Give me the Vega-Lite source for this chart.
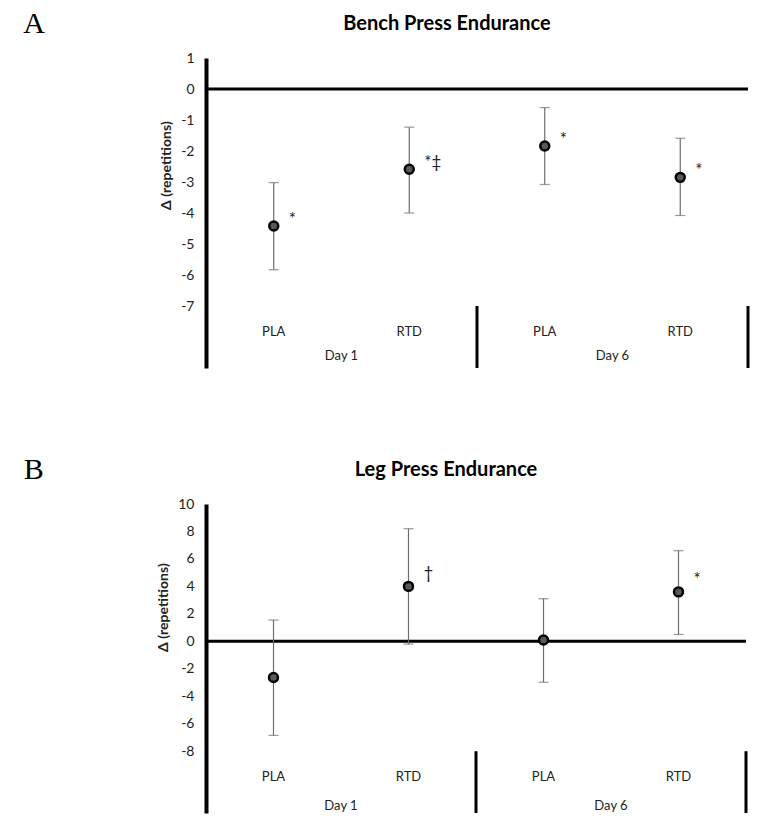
{
  "$schema": "https://vega.github.io/schema/vega-lite/v6.json",
  "background": "white",
  "padding": {"left": 23, "top": 9, "right": 5, "bottom": 5},
  "config": {
    "view": {"stroke": null},
    "font": "Lato",
    "title": {"font": "Lato", "fontSize": 20, "fontWeight": "bold", "color": "black"},
    "axisY": {"labelOverlap": false, "labelBound": false, "labelFlush": false, "tickCount": 30, "domain": true, "domainColor": "black", "domainWidth": 4, "ticks": false, "grid": false, "labelFont": "Lato", "labelFontSize": 14, "labelColor": "#222", "labelPadding": 12, "titleFont": "Lato", "titleFontSize": 14, "titleFontWeight": "bold", "titleColor": "#222", "titlePadding": 7}
  },
  "spacing": 85,
  "vconcat": [
    {
      "title": {"text": "A", "orient": "left", "anchor": "end", "angle": 0, "align": "right", "baseline": "top", "dy": -5, "font": "Liberation Serif", "fontSize": 30, "fontWeight": "normal", "offset": 93},
      "vconcat": [
        {
          "title": {"text": "Bench Press Endurance", "anchor": "middle", "frame": "group", "dx": -30, "offset": 17},
          "width": 542,
          "height": 310,
          "data": {"values": [
            {"day": "Day 1", "group": "PLA", "cond": "Day 1 PLA", "mean": -4.42, "lo": -5.83, "hi": -3.02, "sig": "*"},
            {"day": "Day 1", "group": "RTD", "cond": "Day 1 RTD", "mean": -2.59, "lo": -4.0, "hi": -1.23, "sig": "*‡"},
            {"day": "Day 6", "group": "PLA", "cond": "Day 6 PLA", "mean": -1.84, "lo": -3.08, "hi": -0.6, "sig": "*"},
            {"day": "Day 6", "group": "RTD", "cond": "Day 6 RTD", "mean": -2.85, "lo": -4.08, "hi": -1.59, "sig": "*"}
          ]},
          "layer": [
            {
              "data": {"values": [{"ref": 0}]},
              "mark": {"type": "rule", "color": "black", "strokeWidth": 3},
              "encoding": {
                "y": {"field": "ref", "type": "quantitative", "scale": {"domain": [-9, 1], "nice": false, "zero": false},
                  "axis": {"title": "Δ (repetitions)", "values": [-7, -6, -5, -4, -3, -2, -1, 0, 1], "tickCount": 30, "labelExpr": "datum.value + ''", "labelOverlap": false, "titleY": 107}}
              }
            },
            {
              "mark": {"type": "rule", "color": "#6e6e6e", "strokeWidth": 1.2},
              "encoding": {
                "x": {"field": "cond", "type": "nominal", "scale": {"type": "band", "domain": ["Day 1 PLA", "Day 1 RTD", "Day 6 PLA", "Day 6 RTD"], "paddingInner": 0, "paddingOuter": 0}, "axis": null},
                "y": {"field": "lo", "type": "quantitative", "scale": {"domain": [-9, 1], "nice": false, "zero": false}},
                "y2": {"field": "hi"}
              }
            },
            {
              "mark": {"type": "tick", "orient": "horizontal", "color": "#6e6e6e", "thickness": 1.2, "size": 10},
              "encoding": {
                "x": {"field": "cond", "type": "nominal", "scale": {"type": "band", "domain": ["Day 1 PLA", "Day 1 RTD", "Day 6 PLA", "Day 6 RTD"], "paddingInner": 0, "paddingOuter": 0}, "axis": null},
                "y": {"field": "lo", "type": "quantitative", "scale": {"domain": [-9, 1], "nice": false, "zero": false}}
              }
            },
            {
              "mark": {"type": "tick", "orient": "horizontal", "color": "#6e6e6e", "thickness": 1.2, "size": 10},
              "encoding": {
                "x": {"field": "cond", "type": "nominal", "scale": {"type": "band", "domain": ["Day 1 PLA", "Day 1 RTD", "Day 6 PLA", "Day 6 RTD"], "paddingInner": 0, "paddingOuter": 0}, "axis": null},
                "y": {"field": "hi", "type": "quantitative", "scale": {"domain": [-9, 1], "nice": false, "zero": false}}
              }
            },
            {
              "mark": {"type": "point", "shape": "circle", "filled": true, "fill": "#595959", "stroke": "black", "strokeWidth": 2.5, "size": 80, "opacity": 1},
              "encoding": {
                "x": {"field": "cond", "type": "nominal", "scale": {"type": "band", "domain": ["Day 1 PLA", "Day 1 RTD", "Day 6 PLA", "Day 6 RTD"], "paddingInner": 0, "paddingOuter": 0}, "axis": null},
                "y": {"field": "mean", "type": "quantitative", "scale": {"domain": [-9, 1], "nice": false, "zero": false}}
              }
            },
            {
              "mark": {"type": "text", "align": "left", "baseline": "middle", "dx": 15, "dy": -6, "fontSize": 17, "color": "#222"},
              "encoding": {
                "x": {"field": "cond", "type": "nominal", "scale": {"type": "band", "domain": ["Day 1 PLA", "Day 1 RTD", "Day 6 PLA", "Day 6 RTD"], "paddingInner": 0, "paddingOuter": 0}, "axis": null},
                "y": {"field": "mean", "type": "quantitative", "scale": {"domain": [-9, 1], "nice": false, "zero": false}},
                "text": {"field": "sig"}
              }
            },
            {
              "data": {"values": [{"cond": "Day 1 RTD", "y0": -9, "y1": -7}, {"cond": "Day 6 RTD", "y0": -9, "y1": -7}]},
              "mark": {"type": "rule", "color": "black", "strokeWidth": 3},
              "encoding": {
                "x": {"field": "cond", "type": "nominal", "bandPosition": 1, "scale": {"type": "band", "domain": ["Day 1 PLA", "Day 1 RTD", "Day 6 PLA", "Day 6 RTD"], "paddingInner": 0, "paddingOuter": 0}, "axis": null},
                "y": {"field": "y0", "type": "quantitative", "scale": {"domain": [-9, 1], "nice": false, "zero": false}},
                "y2": {"field": "y1"}
              }
            },
            {
              "mark": {"type": "text", "baseline": "middle", "fontSize": 13, "color": "#222"},
              "encoding": {
                "x": {"field": "cond", "type": "nominal", "scale": {"type": "band", "domain": ["Day 1 PLA", "Day 1 RTD", "Day 6 PLA", "Day 6 RTD"], "paddingInner": 0, "paddingOuter": 0}, "axis": null},
                "y": {"datum": -7.85, "type": "quantitative", "scale": {"domain": [-9, 1], "nice": false, "zero": false}},
                "text": {"field": "group"}
              }
            },
            {
              "data": {"values": [{"cond": "Day 1 PLA", "day": "Day 1"}, {"cond": "Day 6 PLA", "day": "Day 6"}]},
              "mark": {"type": "text", "baseline": "middle", "fontSize": 13, "color": "#222"},
              "encoding": {
                "x": {"field": "cond", "type": "nominal", "bandPosition": 1, "scale": {"type": "band", "domain": ["Day 1 PLA", "Day 1 RTD", "Day 6 PLA", "Day 6 RTD"], "paddingInner": 0, "paddingOuter": 0}, "axis": null},
                "y": {"datum": -8.6, "type": "quantitative", "scale": {"domain": [-9, 1], "nice": false, "zero": false}},
                "text": {"field": "day"}
              }
            }
          ]
        }
      ]
    },
    {
      "title": {"text": "B", "orient": "left", "anchor": "end", "angle": 0, "align": "right", "baseline": "top", "dy": -5, "font": "Liberation Serif", "fontSize": 30, "fontWeight": "normal", "offset": 93},
      "vconcat": [
        {
          "title": {"text": "Leg Press Endurance", "anchor": "middle", "frame": "group", "dx": -30, "offset": 17},
          "width": 540,
          "height": 309,
          "data": {"values": [
            {"day": "Day 1", "group": "PLA", "cond": "Day 1 PLA", "mean": -2.63, "lo": -6.85, "hi": 1.55, "sig": ""},
            {"day": "Day 1", "group": "RTD", "cond": "Day 1 RTD", "mean": 4.0, "lo": -0.2, "hi": 8.2, "sig": "†"},
            {"day": "Day 6", "group": "PLA", "cond": "Day 6 PLA", "mean": 0.1, "lo": -2.98, "hi": 3.1, "sig": ""},
            {"day": "Day 6", "group": "RTD", "cond": "Day 6 RTD", "mean": 3.6, "lo": 0.5, "hi": 6.6, "sig": "*"}
          ]},
          "layer": [
            {
              "data": {"values": [{"ref": 0}]},
              "mark": {"type": "rule", "color": "black", "strokeWidth": 3},
              "encoding": {
                "y": {"field": "ref", "type": "quantitative", "scale": {"domain": [-12.5, 10], "nice": false, "zero": false},
                  "axis": {"title": "Δ (repetitions)", "values": [-8, -6, -4, -2, 0, 2, 4, 6, 8, 10], "tickCount": 30, "labelExpr": "datum.value + ''", "labelOverlap": false, "titleY": 103}}
              }
            },
            {
              "mark": {"type": "rule", "color": "#6e6e6e", "strokeWidth": 1.2},
              "encoding": {
                "x": {"field": "cond", "type": "nominal", "scale": {"type": "band", "domain": ["Day 1 PLA", "Day 1 RTD", "Day 6 PLA", "Day 6 RTD"], "paddingInner": 0, "paddingOuter": 0}, "axis": null},
                "y": {"field": "lo", "type": "quantitative", "scale": {"domain": [-12.5, 10], "nice": false, "zero": false}},
                "y2": {"field": "hi"}
              }
            },
            {
              "mark": {"type": "tick", "orient": "horizontal", "color": "#6e6e6e", "thickness": 1.2, "size": 10},
              "encoding": {
                "x": {"field": "cond", "type": "nominal", "scale": {"type": "band", "domain": ["Day 1 PLA", "Day 1 RTD", "Day 6 PLA", "Day 6 RTD"], "paddingInner": 0, "paddingOuter": 0}, "axis": null},
                "y": {"field": "lo", "type": "quantitative", "scale": {"domain": [-12.5, 10], "nice": false, "zero": false}}
              }
            },
            {
              "mark": {"type": "tick", "orient": "horizontal", "color": "#6e6e6e", "thickness": 1.2, "size": 10},
              "encoding": {
                "x": {"field": "cond", "type": "nominal", "scale": {"type": "band", "domain": ["Day 1 PLA", "Day 1 RTD", "Day 6 PLA", "Day 6 RTD"], "paddingInner": 0, "paddingOuter": 0}, "axis": null},
                "y": {"field": "hi", "type": "quantitative", "scale": {"domain": [-12.5, 10], "nice": false, "zero": false}}
              }
            },
            {
              "mark": {"type": "point", "shape": "circle", "filled": true, "fill": "#595959", "stroke": "black", "strokeWidth": 2.5, "size": 80, "opacity": 1},
              "encoding": {
                "x": {"field": "cond", "type": "nominal", "scale": {"type": "band", "domain": ["Day 1 PLA", "Day 1 RTD", "Day 6 PLA", "Day 6 RTD"], "paddingInner": 0, "paddingOuter": 0}, "axis": null},
                "y": {"field": "mean", "type": "quantitative", "scale": {"domain": [-12.5, 10], "nice": false, "zero": false}}
              }
            },
            {
              "mark": {"type": "text", "align": "left", "baseline": "middle", "dx": 15, "dy": -12, "fontSize": 17, "color": "#222"},
              "encoding": {
                "x": {"field": "cond", "type": "nominal", "scale": {"type": "band", "domain": ["Day 1 PLA", "Day 1 RTD", "Day 6 PLA", "Day 6 RTD"], "paddingInner": 0, "paddingOuter": 0}, "axis": null},
                "y": {"field": "mean", "type": "quantitative", "scale": {"domain": [-12.5, 10], "nice": false, "zero": false}},
                "text": {"field": "sig"}
              }
            },
            {
              "data": {"values": [{"cond": "Day 1 RTD", "y0": -12.5, "y1": -8}, {"cond": "Day 6 RTD", "y0": -12.5, "y1": -8}]},
              "mark": {"type": "rule", "color": "black", "strokeWidth": 3},
              "encoding": {
                "x": {"field": "cond", "type": "nominal", "bandPosition": 1, "scale": {"type": "band", "domain": ["Day 1 PLA", "Day 1 RTD", "Day 6 PLA", "Day 6 RTD"], "paddingInner": 0, "paddingOuter": 0}, "axis": null},
                "y": {"field": "y0", "type": "quantitative", "scale": {"domain": [-12.5, 10], "nice": false, "zero": false}},
                "y2": {"field": "y1"}
              }
            },
            {
              "mark": {"type": "text", "baseline": "middle", "fontSize": 13, "color": "#222"},
              "encoding": {
                "x": {"field": "cond", "type": "nominal", "scale": {"type": "band", "domain": ["Day 1 PLA", "Day 1 RTD", "Day 6 PLA", "Day 6 RTD"], "paddingInner": 0, "paddingOuter": 0}, "axis": null},
                "y": {"datum": -9.9, "type": "quantitative", "scale": {"domain": [-12.5, 10], "nice": false, "zero": false}},
                "text": {"field": "group"}
              }
            },
            {
              "data": {"values": [{"cond": "Day 1 PLA", "day": "Day 1"}, {"cond": "Day 6 PLA", "day": "Day 6"}]},
              "mark": {"type": "text", "baseline": "middle", "fontSize": 13, "color": "#222"},
              "encoding": {
                "x": {"field": "cond", "type": "nominal", "bandPosition": 1, "scale": {"type": "band", "domain": ["Day 1 PLA", "Day 1 RTD", "Day 6 PLA", "Day 6 RTD"], "paddingInner": 0, "paddingOuter": 0}, "axis": null},
                "y": {"datum": -12.0, "type": "quantitative", "scale": {"domain": [-12.5, 10], "nice": false, "zero": false}},
                "text": {"field": "day"}
              }
            }
          ]
        }
      ]
    }
  ]
}
